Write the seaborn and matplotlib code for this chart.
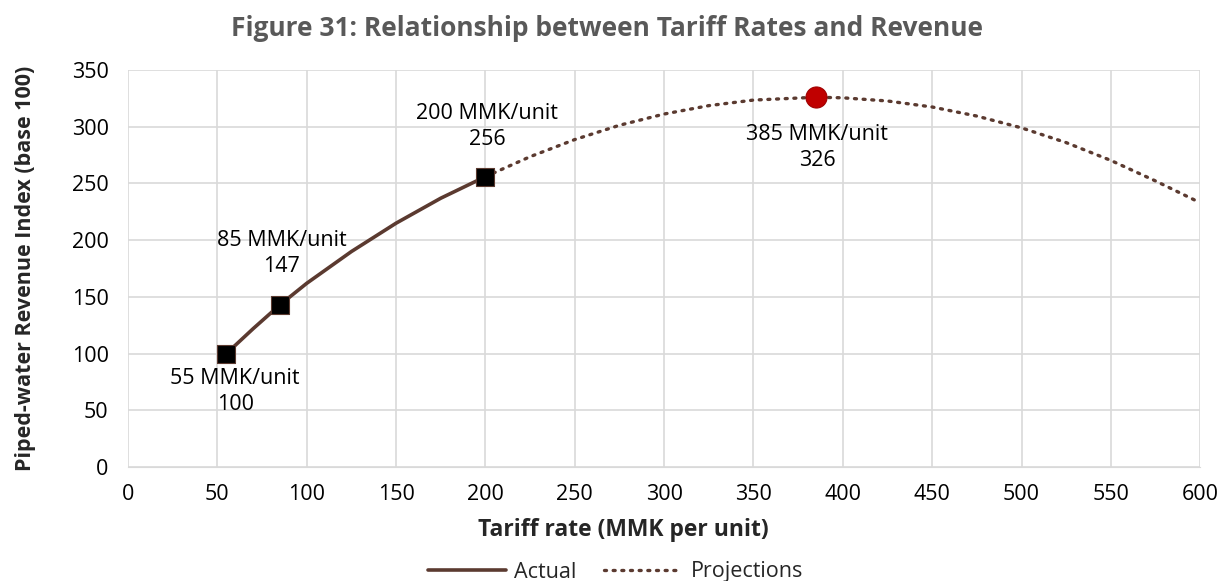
import numpy as np
import pandas as pd
import matplotlib
matplotlib.use("Agg")
import matplotlib.pyplot as plt
import seaborn as sns

# values
actual_tariff = [55, 70, 85, 100, 125, 150, 175, 200]
actual_revenue = [100, 122, 143, 162, 190, 215, 237, 256]

proj_tariff = [200, 225, 250, 275, 300, 325, 350, 385, 400, 425, 450,
               475, 500, 525, 550, 575, 600]
proj_revenue = [256, 273.6, 288.7, 301.3, 311.2, 318.6, 323.5, 326, 325.5,
                322.7, 317.4, 309.4, 299, 286, 270.3, 252.2, 233]

point_tariff = [55, 85, 200]
point_revenue = [100, 143, 256]
point_labels = ["55 MMK/unit\n100", "85 MMK/unit\n147", "200 MMK/unit\n256"]

peak_tariff = [385]
peak_revenue = [326]
peak_label = "385 MMK/unit\n326"

sns.set_style("white")
plt.rcParams['font.family'] = ['Open Sans', 'DejaVu Sans']

line_col = "#5B3A30"
grid_col = "#D9D9D9"

fig = plt.figure(figsize=(12.31, 5.81), dpi=100)
ax = fig.add_axes([0.104, 0.196, 0.871, 0.6835])

df_act = pd.DataFrame({"x": actual_tariff, "y": actual_revenue})
df_proj = pd.DataFrame({"x": proj_tariff, "y": proj_revenue})

sns.lineplot(data=df_proj, x="x", y="y", ax=ax, color=line_col, lw=2.4,
             linestyle=(0, (0.6, 2.0)), dash_capstyle="round", sort=False,
             label="Projections")
sns.lineplot(data=df_act, x="x", y="y", ax=ax, color=line_col, lw=2.6,
             sort=False, label="Actual")

sns.scatterplot(x=point_tariff, y=point_revenue, ax=ax, marker="s", s=150,
                color="black", edgecolor="#5B3A30", linewidth=0.8, zorder=5)
sns.scatterplot(x=peak_tariff, y=peak_revenue, ax=ax, marker="o", s=230,
                color="#C00000", edgecolor="#A00000", linewidth=0.8, zorder=5)

# labels next to the markers
label_pos = [(60, 67), (86, 188), (201, 300)]
for (tx, ty), txt in zip(label_pos, point_labels):
    ax.text(tx, ty, txt, ha="center", va="center", fontsize=15.5,
            linespacing=1.3, color="black")
ax.text(385.5, 282, peak_label, ha="center", va="center", fontsize=15.5,
        linespacing=1.3, color="black")

ax.set_xlim(0, 600)
ax.set_ylim(0, 350)
ax.set_xticks(np.arange(0, 601, 50))
ax.set_yticks(np.arange(0, 351, 50))
ax.grid(True, color=grid_col, lw=1.2)
ax.set_axisbelow(True)
for s in ["top", "right", "left"]:
    ax.spines[s].set_visible(False)
ax.spines["bottom"].set_color(grid_col)
ax.tick_params(axis="both", length=0, labelsize=15.5, colors="black")
ax.tick_params(axis="x", pad=12)
ax.tick_params(axis="y", pad=14)

ax.set_xlabel("Tariff rate (MMK per unit)", fontsize=16.5, fontweight="bold")
ax.xaxis.set_label_coords((623 - 128) / 1072, -(518 - 467) / 397)
ax.set_ylabel("Piped-water Revenue Index (base 100)", fontsize=15.5,
              fontweight="bold")
ax.yaxis.set_label_coords(-(128 - 36) / 1072, 0.5)

fig.text(0.493, 1 - 28 / 581,
         "Figure 31: Relationship between Tariff Rates and Revenue",
         ha="center", va="center", fontsize=19, fontweight="bold",
         color="#595959")

# legend at the bottom, Actual first
handles, labels = ax.get_legend_handles_labels()
order = [labels.index("Actual"), labels.index("Projections")]
ax.get_legend().remove()
fig.legend([handles[i] for i in order], [labels[i] for i in order],
           loc="center", bbox_to_anchor=(0.5, 1 - 572 / 581), ncol=2,
           frameon=False, fontsize=15.5, handlelength=3.6, columnspacing=1.3,
           handletextpad=0.4)

plt.savefig("out.png", dpi=100)
plt.close()
